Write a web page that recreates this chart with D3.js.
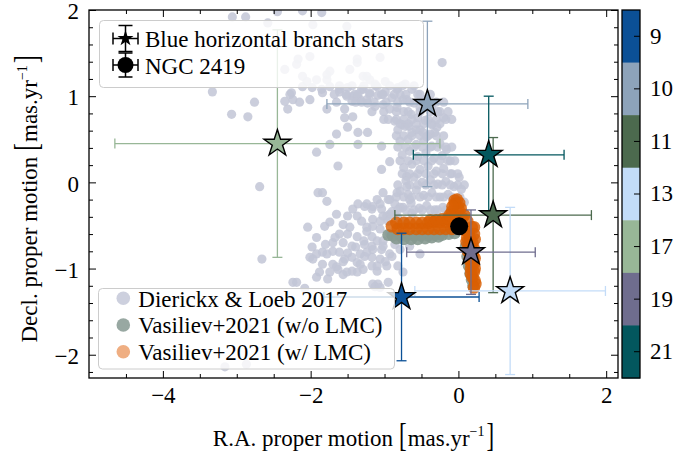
<!DOCTYPE html>
<html><head><meta charset="utf-8">
<script src="https://cdn.jsdelivr.net/npm/d3@7"></script>
<style>
body{margin:0;background:#fff}
svg{font-family:"Liberation Serif","Times New Roman",serif}
</style></head>
<body><svg id="c" width="673" height="457"></svg>
<script>
// ---------- data ----------
const xDomain = [-5.0, 2.16];
const yDomain = [-2.27, 2.0];
const xTicks = [-4, -2, 0, 2];
const xMinorTicks = [-4.5, -3.5, -3, -2.5, -1.5, -1, -0.5, 0.5, 1, 1.5];
const yTicks = [-2, -1, 0, 1, 2];
const yMinorTicks = [-2.2, -1.8, -1.6, -1.4, -1.2, -0.8, -0.6, -0.4, -0.2, 0.2, 0.4, 0.6, 0.8, 1.2, 1.4, 1.6, 1.8];

const colorbarLabels = ["9", "10", "11", "13", "17", "19", "21"];
const colorbarColors = ["#0b5096", "#8da3ba", "#4c6a4e", "#c3dcf8", "#98b797", "#6f6d8e", "#03575e"];

// Blue horizontal branch stars
const starGroup = ["9", "10", "11", "13", "17", "19", "21"];
const starX     = [-0.77, -0.42, 0.47, 0.70, -2.45, 0.17, 0.41];
const starY     = [-1.33, 0.91, -0.38, -1.26, 0.45, -0.81, 0.32];
const starXErr  = [1.05, 1.36, 1.33, 1.29, 2.20, 0.87, 1.02];
const starYErr  = [0.74, 0.96, 0.90, 0.97, 1.32, 0.49, 0.68];

// NGC 2419
const ngcX = [0.01];
const ngcY = [-0.51];

// Dierickx & Loeb 2017
const dierickx = [
[-2.88,1.92],[-2.45,1.98],[-1.85,1.97],[-1.97,1.83],[-1.51,1.81],[-2.58,1.85],[-3.06,1.92],[-2.11,1.99],
[-2.17,1.43],[-2.01,1.46],[-2.19,1.37],[-2.35,1.31],[-0.22,1.39],[-1.37,1.39],[-1.47,1.31],[-1.78,1.25],
[-2.05,1.17],[-1.92,1.19],[-1.78,1.19],[-1.74,1.11],[-1.61,1.08],[-1.51,1.00],[-1.98,1.10],[-1.85,1.08],
[-1.29,1.23],[-1.20,1.19],[-1.10,1.11],[-1.29,1.08],[-1.37,1.00],[-1.24,0.96],[-2.26,1.04],[-2.24,0.96],
[-2.15,0.93],[-2.31,0.85],[-2.76,0.93],[-2.85,0.76],[-3.07,0.79],[-3.33,1.05],[-2.35,0.94],[-1.78,0.85],
[-1.65,0.93],[-1.54,0.85],[-1.54,0.75],[-1.43,0.76],[-1.50,0.64],[-1.36,0.58],[-1.65,0.56],[-1.74,0.44],
[-1.36,0.44],[-1.04,0.42],[-1.92,0.35],[-1.63,0.19],[-1.04,0.15],[-0.93,0.24],[-2.69,-0.05],[-2.66,-0.89],
[-1.90,-0.12],[-1.84,-0.12],[-1.78,-0.22],
[-2.28,1.02],[-2.11,1.11],[-2.01,0.96],[-1.84,1.04],[-1.43,1.00],[-1.02,1.02],[-0.83,1.08],[-0.75,0.96],
[-1.37,1.43],[-2.11,1.23],[-1.74,1.29],[-1.24,1.23],[-1.06,1.45],
[-1.23,0.58],[-1.27,-0.28],[-1.10,-0.20],[-0.52,-0.83],[-0.66,-0.74],[-1.24,-0.81],[-1.06,-0.89],[-1.29,-1.01],
[-1.10,-1.03],[-0.97,-0.97],[-1.13,-1.21],[-0.95,-1.16],
[-1.61,1.05],[-1.50,1.10],[-1.40,1.02],[-1.31,1.08],[-1.20,1.04],[-1.09,1.01],[-0.99,1.05],[-0.90,0.98],
[-0.79,1.02],[-0.70,0.96],[-0.60,0.92],[-0.52,0.87],[-1.44,0.94],[-1.33,0.96],[-1.23,0.92],[-1.13,0.88],
[-1.02,0.90],[-0.93,0.85],[-0.83,0.87],[-0.74,0.82],[-0.64,0.79],[-0.55,0.75],[-0.45,0.72],[-0.36,0.67],
[-0.95,0.73],[-0.86,0.71],[-0.76,0.67],[-0.67,0.65],[-0.57,0.61],[-0.48,0.58],[-0.38,0.56],[-0.29,0.64],
[-0.82,1.10],[-0.72,1.14],[-0.63,1.08],[-0.99,1.17],[-1.13,1.14],[-0.55,1.02],[-0.45,0.96],[-0.36,0.87],
[-0.28,0.82],[-0.20,0.75],
[-0.82,0.61],[-0.72,0.65],[-0.63,0.58],[-0.52,0.61],[-0.43,0.53],[-0.32,0.58],[-0.79,0.48],[-0.68,0.50],
[-0.57,0.44],[-0.47,0.48],[-0.36,0.42],[-0.25,0.45],[-0.16,0.38],[-0.76,0.32],[-0.66,0.36],[-0.55,0.30],
[-0.44,0.34],[-0.33,0.28],[-0.22,0.31],[-0.11,0.25],[-0.74,0.17],[-0.63,0.21],[-0.52,0.15],[-0.41,0.19],
[-0.30,0.13],[-0.20,0.16],[-0.09,0.10],[0.01,0.06],[-0.71,0.02],[-0.60,0.06],[-0.49,0.00],[-0.38,0.03],
[-0.28,-0.02],[-0.17,0.01],[-0.06,-0.05],[0.04,-0.08],[-0.79,-0.10],[-0.68,-0.14],[-0.57,-0.09],[-0.47,-0.15],
[-0.36,-0.12],[-0.25,-0.17],[-0.14,-0.14],[-0.03,-0.20],[0.08,-0.23],[-0.86,-0.25],[-0.75,-0.29],[-0.64,-0.24],
[-0.53,-0.30],[-0.43,-0.27],[-0.32,-0.32],[-0.21,-0.29],[-0.10,-0.35],[0.10,-0.37],[-0.93,-0.37],[-0.82,-0.41],
[-0.95,-0.20],[-1.06,-0.25],[-1.17,-0.31],
[-1.02,-0.12],[-0.70,-0.05],[-0.66,-0.20],[-1.16,-0.28],[-1.04,-0.31],[-1.24,-0.25],[-0.93,-0.20],[-0.83,-0.12],
[-0.70,0.07],[-1.36,-0.25],[-1.43,-0.31],[-1.50,-0.39],[-1.37,-0.39],[-1.56,-0.49],[-1.65,-0.37],[-1.74,-0.46],
[-1.81,-0.51],[-1.92,-0.64],[-2.04,-0.52],[-1.98,-0.75],[-2.01,-0.87],[-1.92,-0.83],[-1.84,-0.81],[-1.70,-0.80],
[-1.56,-0.70],[-1.37,-0.63],[-1.24,-0.57],[-1.16,-0.51],[-1.06,-0.45],[-0.97,-0.39],[-0.90,-0.34],[-0.79,-0.29],
[-1.02,-0.39],[-1.16,-0.43],[-1.24,-0.52],[-1.44,-0.74],[-1.54,-0.89],[-1.61,-0.81],[-1.70,-0.70],[-1.78,-0.83],
[-1.97,-0.89],[-1.84,-0.95],[-1.70,-0.95],[-1.63,-1.01],[-1.56,-0.92],[-1.44,-0.87],[-1.33,-0.83],[-1.17,-0.74],
[-1.10,-0.68],[-1.02,-0.68],[-0.93,-0.83],[-0.79,-0.78],[-1.92,-1.10],[-1.77,-1.12],[-1.56,-1.07],[-1.44,-1.03],
[-1.37,-1.04],[-1.17,-0.97],[-0.82,-0.97],[-2.24,-1.16],[-2.08,-1.23],[-1.09,-1.18],[-1.65,-0.98],[-1.51,-1.04],
[-1.37,-0.93],[-1.27,-0.86],[-1.16,-0.78],[-1.02,-0.74],[-0.90,-0.86],[-1.10,-0.97],[-1.50,-0.60],[-1.61,-0.60],
[-1.27,-0.72],[-1.47,-0.52],[-1.31,-0.45],[-1.67,-0.64],[-1.80,-0.72],
[-2.19,-1.16],[-1.88,-1.04],[-1.74,-1.04],[-1.16,-1.18],[-1.06,-1.22],[-0.75,-1.04],[-3.16,-2.14],[-2.87,-2.11],
[-2.83,-1.70],
[-0.79,0.68],[-0.68,0.68],[-0.57,0.68],[-0.47,0.68],[-0.36,0.68],[-0.25,0.68],
[-0.84,0.54],[-0.74,0.54],[-0.63,0.54],[-0.52,0.54],[-0.41,0.54],[-0.30,0.54],[-0.20,0.54],
[-0.82,0.41],[-0.71,0.41],[-0.60,0.41],[-0.49,0.41],[-0.38,0.41],[-0.28,0.41],[-0.17,0.41],[-0.09,0.41],
[-0.79,0.25],[-0.68,0.25],[-0.57,0.25],[-0.47,0.25],[-0.36,0.25],[-0.25,0.25],[-0.14,0.25],[-0.05,0.25],
[-0.76,0.10],[-0.66,0.10],[-0.55,0.10],[-0.44,0.10],[-0.33,0.10],[-0.22,0.10],[-0.11,0.10],[-0.01,0.10],
[-0.82,-0.03],[-0.66,-0.03],[-0.55,-0.03],[-0.44,-0.03],[-0.33,-0.03],[-0.22,-0.03],[-0.11,-0.03],[-0.01,-0.03],[0.08,-0.03],
[-0.84,-0.17],[-0.74,-0.17],[-0.63,-0.17],[-0.52,-0.17],[-0.41,-0.17],[-0.30,-0.17],[-0.20,-0.17],[-0.09,-0.17],[0.02,-0.17],
[-0.82,-0.32],[-0.71,-0.32],[-0.60,-0.32],[-0.49,-0.32],[-0.38,-0.32],[-0.28,-0.32],[-0.17,-0.32],[-0.01,-0.32],
[-1.61,1.12],[-1.44,1.12],[-1.28,1.12],[-1.12,1.12],[-0.93,1.12],[-0.76,1.12],[-0.60,1.12],
[-1.68,1.02],[-1.52,1.02],[-1.36,1.02],[-1.20,1.02],[-1.04,1.02],[-0.87,1.02],[-0.71,1.02],[-0.52,1.02],[-0.38,1.02],
[-1.39,0.93],[-1.31,0.93],[-1.14,0.93],[-0.98,0.93],[-0.82,0.93],[-0.66,0.93],[-0.49,0.93],[-0.30,0.93],[-0.20,0.93],
[-1.17,0.82],[-1.01,0.82],[-0.84,0.82],[-0.68,0.82],[-0.52,0.82],[-0.38,0.82],[-0.25,0.82],[-0.14,0.82],
[-1.01,0.73],[-0.84,0.73],[-0.74,0.73],[-0.63,0.73],[-0.41,0.73],[-0.30,0.73],[-0.17,0.73],[-0.09,0.73],
[-0.86,-0.37],[-0.95,-0.45],[-1.06,-0.54],[-1.17,-0.63],[-1.28,-0.68],[-1.39,-0.75],[-1.50,-0.82],[-0.93,-0.60],
[-0.82,-0.52],[-1.04,-0.78],[-1.17,-0.87],[-1.33,-0.95],[-0.72,-0.45],[-0.63,-0.36],[-0.86,-0.72],[-0.72,-0.64],
[-0.99,-0.92]
];

// Vasiliev+2021 (w/o LMC)
const vasilievNoLMC = [
[-0.95,-0.61],[-0.89,-0.62],[-0.79,-0.62],[-0.70,-0.62],[-0.60,-0.62],[-0.51,-0.62],[-0.41,-0.62],[-0.32,-0.61],
[-0.22,-0.61],[-0.13,-0.60],[-0.05,-0.59],[-0.84,-0.65],[-0.74,-0.66],[-0.64,-0.66],[-0.55,-0.66],[-0.45,-0.65],
[-0.36,-0.64],[-0.27,-0.63],[0.10,-0.74],[0.12,-0.86],[0.14,-0.97],[0.16,-1.06],[0.18,-1.13],[0.20,-1.20]
];

// Vasiliev+2021 (w/ LMC)
const vasilievLMC = [
[-0.90,-0.51],[-0.84,-0.47],[-0.82,-0.54],[-0.74,-0.47],[-0.74,-0.54],[-0.66,-0.47],[-0.66,-0.54],[-0.57,-0.47],
[-0.57,-0.54],[-0.49,-0.47],[-0.49,-0.54],[-0.41,-0.47],[-0.41,-0.54],[-0.33,-0.46],[-0.33,-0.54],[-0.25,-0.46],
[-0.25,-0.54],[-0.17,-0.46],[-0.17,-0.54],[-0.09,-0.46],[-0.09,-0.54],[-0.38,-0.44],[-0.30,-0.44],[-0.22,-0.43],
[-0.14,-0.42],[-0.05,-0.25],[0.00,-0.31],[-0.09,-0.34],[0.05,-0.41],[0.12,-0.45],[0.18,-0.52],[-0.04,-0.38],
[0.00,-0.46],[0.05,-0.50],[0.08,-0.55],[-0.05,-0.50],
[-0.05,-0.21],[-0.02,-0.20],[0.01,-0.24],[0.03,-0.30],[-0.08,-0.28],[-0.12,-0.38],[0.08,-0.38],
[0.21,-0.52],[0.21,-0.60],[0.14,-0.60],[0.11,-0.69],[0.19,-0.70],[0.21,-0.77],[0.13,-0.80],[0.20,-0.85],
[0.15,-0.90],[0.21,-0.94],[0.17,-1.00],[0.21,-1.04],[0.19,-1.10],[0.22,-1.14],[0.23,-1.18],
[0.16,-0.65],[0.17,-0.75],[0.16,-0.85],[0.18,-0.95],[0.17,-1.06],[0.21,-1.22],[0.22,-0.66],[0.22,-0.88],
[0.22,-1.00],[0.12,-0.64],[0.14,-0.74]
];

// ---------- drawing ----------
const M = {l: 89, r: 618, t: 10, b: 378};
const FONT = "23px";
const FAMILY = '"Liberation Serif","Times New Roman",serif';
const x = d3.scaleLinear(xDomain, [M.l, M.r]);
const y = d3.scaleLinear(yDomain, [M.b, M.t]);
const color = d3.scaleOrdinal(colorbarLabels, colorbarColors);
const svg = d3.select("#c");

svg.append("defs").append("clipPath").attr("id", "clip")
  .append("rect").attr("x", M.l).attr("y", M.t).attr("width", M.r - M.l).attr("height", M.b - M.t);
const plot = svg.append("g").attr("clip-path", "url(#clip)");

plot.append("g").selectAll("circle").data(dierickx).join("circle")
  .attr("cx", d => x(d[0])).attr("cy", d => y(d[1])).attr("r", 4.6)
  .attr("fill", "#c2c5d6").attr("fill-opacity", 0.85);
plot.append("g").selectAll("circle").data(vasilievNoLMC).join("circle")
  .attr("cx", d => x(d[0])).attr("cy", d => y(d[1])).attr("r", 6)
  .attr("fill", "#869990").attr("fill-opacity", 0.9);
plot.append("g").selectAll("circle").data(vasilievLMC).join("circle")
  .attr("cx", d => x(d[0])).attr("cy", d => y(d[1])).attr("r", 6.3)
  .attr("fill", "#d95f02").attr("fill-opacity", 0.82);

const stars = starGroup.map((g, i) => ({g, x: starX[i], y: starY[i], xe: starXErr[i], ye: starYErr[i]}));
const CAP = 5;
const eb = plot.append("g").attr("stroke-width", 1.3).attr("fill", "none");
stars.forEach(s => {
  const c = color(s.g);
  const g = eb.append("g").attr("stroke", c);
  const x0 = x(s.x - s.xe), x1 = x(s.x + s.xe), yc = y(s.y);
  const y0 = y(s.y - s.ye), y1 = y(s.y + s.ye), xc = x(s.x);
  g.append("line").attr("x1", x0).attr("x2", x1).attr("y1", yc).attr("y2", yc);
  g.append("line").attr("x1", x0).attr("x2", x0).attr("y1", yc - CAP).attr("y2", yc + CAP);
  g.append("line").attr("x1", x1).attr("x2", x1).attr("y1", yc - CAP).attr("y2", yc + CAP);
  g.append("line").attr("x1", xc).attr("x2", xc).attr("y1", y0).attr("y2", y1);
  g.append("line").attr("x1", xc - CAP).attr("x2", xc + CAP).attr("y1", y0).attr("y2", y0);
  g.append("line").attr("x1", xc - CAP).attr("x2", xc + CAP).attr("y1", y1).attr("y2", y1);
});
const starPath = d3.symbol(d3.symbolStar, 225)();
plot.append("g").selectAll("path").data(stars).join("path")
  .attr("d", starPath).attr("transform", d => `translate(${x(d.x)},${y(d.y)})`)
  .attr("fill", d => color(d.g)).attr("stroke", "#000").attr("stroke-width", 1.4);

plot.append("g").selectAll("circle").data(ngcX).join("circle")
  .attr("cx", d => x(d)).attr("cy", (d, i) => y(ngcY[i])).attr("r", 9).attr("fill", "#000");

// ---------- axes ----------
function styleAxis(g) {
  g.attr("font-family", null).attr("font-size", null);
  g.select(".domain").remove();
  g.selectAll("line").attr("stroke", "#000").attr("stroke-width", 1);
  g.selectAll("text").style("font-size", FONT).style("font-family", FAMILY).attr("fill", "#000");
  return g;
}
const none = () => "";
const fmt = d3.format("d");
styleAxis(svg.append("g").attr("transform", `translate(0,${M.b})`)
  .call(d3.axisBottom(x).tickValues(xTicks).tickFormat(fmt).tickSizeInner(-7).tickSizeOuter(0).tickPadding(9)));
styleAxis(svg.append("g").attr("transform", `translate(0,${M.b})`)
  .call(d3.axisBottom(x).tickValues(xMinorTicks).tickSizeInner(-4).tickSizeOuter(0).tickFormat(none)));
styleAxis(svg.append("g").attr("transform", `translate(0,${M.t})`)
  .call(d3.axisTop(x).tickValues(xTicks).tickSizeInner(-7).tickSizeOuter(0).tickFormat(none)));
styleAxis(svg.append("g").attr("transform", `translate(0,${M.t})`)
  .call(d3.axisTop(x).tickValues(xMinorTicks).tickSizeInner(-4).tickSizeOuter(0).tickFormat(none)));
const yAxisG = styleAxis(svg.append("g").attr("transform", `translate(${M.l},0)`)
  .call(d3.axisLeft(y).tickValues(yTicks).tickFormat(fmt).tickSizeInner(-7).tickSizeOuter(0).tickPadding(10)));
yAxisG.selectAll("text").attr("dy", "0.38em");
styleAxis(svg.append("g").attr("transform", `translate(${M.l},0)`)
  .call(d3.axisLeft(y).tickValues(yMinorTicks).tickSizeInner(-4).tickSizeOuter(0).tickFormat(none)));
styleAxis(svg.append("g").attr("transform", `translate(${M.r},0)`)
  .call(d3.axisRight(y).tickValues(yTicks).tickSizeInner(-7).tickSizeOuter(0).tickFormat(none)));
styleAxis(svg.append("g").attr("transform", `translate(${M.r},0)`)
  .call(d3.axisRight(y).tickValues(yMinorTicks).tickSizeInner(-4).tickSizeOuter(0).tickFormat(none)));
svg.append("rect").attr("x", M.l).attr("y", M.t).attr("width", M.r - M.l).attr("height", M.b - M.t)
  .attr("fill", "none").attr("stroke", "#000").attr("stroke-width", 1.3);

// axis labels: text pieces laid out one after another, with tall thin brackets
function unitLabel(main, cx, base, rotate) {
  const g = svg.append("g").attr("transform",
    rotate ? `translate(${base},${cx}) rotate(-90)` : `translate(${cx},${base})`);
  const inner = g.append("g");
  let cur = 0;
  function addText(str, size, dy) {
    const t = inner.append("text").attr("x", cur).attr("y", dy || 0)
      .style("font-size", size).style("font-family", FAMILY).text(str);
    cur += t.node().getComputedTextLength();
  }
  function addBracket(ch) {
    const t = inner.append("text").attr("transform", `translate(${cur},0) scale(1,1.5)`)
      .style("font-size", FONT).style("font-family", FAMILY).text(ch);
    cur += t.node().getComputedTextLength();
  }
  addText(main, FONT);
  cur += 6;
  addBracket("[");
  cur += 1;
  addText("mas.yr", FONT);
  addText("\u22121", "14px", -10);
  cur += 2;
  addBracket("]");
  inner.attr("transform", `translate(${-cur / 2},0)`);
}
unitLabel("R.A. proper motion", (M.l + M.r) / 2, 446, false);
unitLabel("Decl. proper motion", (M.t + M.b) / 2 + 5, 37, true);

// ---------- colorbar ----------
const CB = {x: 622, w: 18};
const band = d3.scaleBand(colorbarLabels, [M.t, M.b]);
svg.append("g").selectAll("rect").data(colorbarLabels).join("rect")
  .attr("x", CB.x).attr("y", d => band(d)).attr("width", CB.w).attr("height", band.bandwidth() + 0.5)
  .attr("fill", d => color(d));
styleAxis(svg.append("g").attr("transform", `translate(${CB.x + CB.w},0)`)
  .call(d3.axisRight(band).tickSizeInner(-6).tickSizeOuter(0).tickPadding(10)));
svg.append("rect").attr("x", CB.x).attr("y", M.t).attr("width", CB.w).attr("height", M.b - M.t)
  .attr("fill", "none").attr("stroke", "#000").attr("stroke-width", 1.3);

// ---------- legends ----------
const L1 = svg.append("g");
L1.append("rect").attr("x", 99.5).attr("y", 20.5).attr("width", 324).attr("height", 67).attr("rx", 4)
  .attr("fill", "#fff").attr("fill-opacity", 0.8).attr("stroke", "#cccccc").attr("stroke-width", 1);
function legendErr(g, cx, cy, hw, vh) {
  const e = g.append("g").attr("stroke", "#000").attr("stroke-width", 1.5);
  e.append("line").attr("x1", cx - hw).attr("x2", cx + hw).attr("y1", cy).attr("y2", cy);
  e.append("line").attr("x1", cx - hw).attr("x2", cx - hw).attr("y1", cy - 6).attr("y2", cy + 6);
  e.append("line").attr("x1", cx + hw).attr("x2", cx + hw).attr("y1", cy - 6).attr("y2", cy + 6);
  e.append("line").attr("x1", cx).attr("x2", cx).attr("y1", cy - vh).attr("y2", cy + vh);
  e.append("line").attr("x1", cx - 7).attr("x2", cx + 7).attr("y1", cy - vh).attr("y2", cy - vh);
  e.append("line").attr("x1", cx - 7).attr("x2", cx + 7).attr("y1", cy + vh).attr("y2", cy + vh);
}
legendErr(L1, 125.5, 38.5, 12.5, 13);
L1.append("path").attr("d", d3.symbol(d3.symbolStar, 80)()).attr("transform", "translate(125.5,38.5)").attr("fill", "#000");
legendErr(L1, 125.5, 65, 12.5, 12);
L1.append("circle").attr("cx", 125.5).attr("cy", 65).attr("r", 8).attr("fill", "#000");
L1.append("text").attr("x", 145).attr("y", 46.5).style("font-size", FONT).text("Blue horizontal branch stars");
L1.append("text").attr("x", 145).attr("y", 73.5).style("font-size", FONT).text("NGC 2419");

const L2 = svg.append("g");
L2.append("rect").attr("x", 98.5).attr("y", 288.5).attr("width", 296).attr("height", 80.5).attr("rx", 4)
  .attr("fill", "#fff").attr("fill-opacity", 0.8).attr("stroke", "#cccccc").attr("stroke-width", 1);
const legend2Labels = ["Dierickx & Loeb 2017", "Vasiliev+2021 (w/o LMC)", "Vasiliev+2021 (w/ LMC)"];
const legend2Colors = ["#cdd0de", "#98a8a2", "#efae82"];
legend2Labels.forEach((lab, i) => {
  L2.append("circle").attr("cx", 123.3).attr("cy", 298.3 + i * 26.7).attr("r", 6.8).attr("fill", legend2Colors[i]);
  L2.append("text").attr("x", 138.3).attr("y", 306.7 + i * 26.7).style("font-size", FONT).text(lab);
});
</script></body></html>
